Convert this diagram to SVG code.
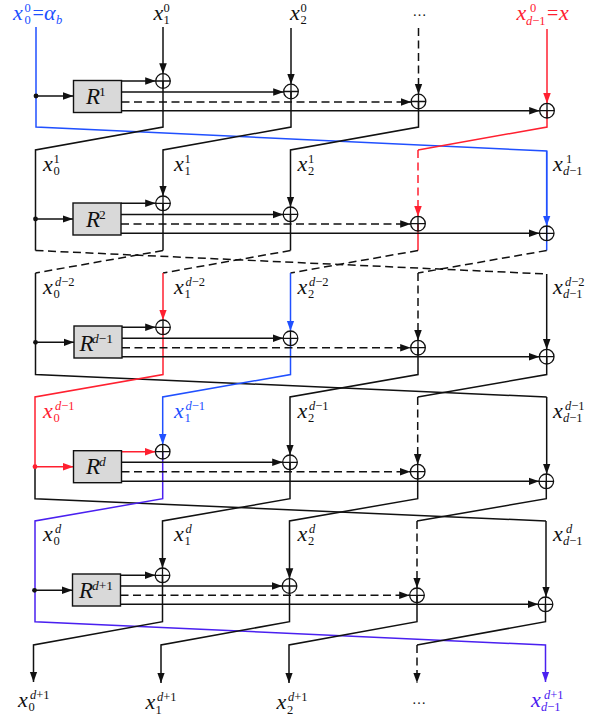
<svg xmlns="http://www.w3.org/2000/svg" width="594" height="716" viewBox="0 0 594 716">
<style>
text{font-family:"Liberation Serif","Times New Roman",serif;fill:#111}
.b{font-size:22px;font-style:italic}
.e{font-size:20px}
.s{font-size:12.5px}
.s tspan,.i{font-style:italic}
.r{font-size:23px;font-style:italic}
.u{font-size:13.5px}
.blue text{fill:#2050ff}.red text{fill:#ff2030}.pur text{fill:#4a20f0}
path{fill:none;stroke:#111;stroke-width:1.5}
.c{fill:none;stroke:#111;stroke-width:1.3}
.box{fill:#d9d9d9;stroke:#111;stroke-width:1.4}
.d{stroke-dasharray:8 4.5}
.A{marker-end:url(#ak)}
.kr{stroke:#ff2030}.kb{stroke:#2050ff}.kp{stroke:#4a20f0}
.Ar{marker-end:url(#ar)}.Ab{marker-end:url(#ab)}.Ap{marker-end:url(#ap)}
</style>
<defs>
<marker id="ak" markerUnits="userSpaceOnUse" markerWidth="11" markerHeight="9" refX="10.5" refY="4.5" orient="auto"><path d="M0 .7L10.5 4.500L0 8.300z" style="fill:#111;stroke:none"/></marker>
<marker id="ar" markerUnits="userSpaceOnUse" markerWidth="11" markerHeight="9" refX="10.5" refY="4.5" orient="auto"><path d="M0 .7L10.5 4.500L0 8.300z" style="fill:#ff2030;stroke:none"/></marker>
<marker id="ab" markerUnits="userSpaceOnUse" markerWidth="11" markerHeight="9" refX="10.5" refY="4.5" orient="auto"><path d="M0 .7L10.5 4.500L0 8.300z" style="fill:#2050ff;stroke:none"/></marker>
<marker id="ap" markerUnits="userSpaceOnUse" markerWidth="11" markerHeight="9" refX="10.5" refY="4.5" orient="auto"><path d="M0 .7L10.5 4.500L0 8.300z" style="fill:#4a20f0;stroke:none"/></marker>
<g id="xor"><circle class="c" r="7.3"/><path class="c" d="M-7.3 0H7.3M0-7.3V7.3"/></g>
</defs>
<g id="connectors">
<path class="kb" d="M36 27V127L546.7 151V250.5"/>
<path class="kb Ab" d="M546.7 151V226"/>
<path class="A" d="M163 27V73.7"/>
<path class="A" d="M291 28V84.2"/>
<path class="d A" d="M418.5 28V94.2"/>
<path class="kr Ar" d="M547 29V103.4"/>
<path d="M163 81V127L35.5 150V250.5"/>
<path class="A" d="M291 91.5V127L163 150V196"/>
<path class="A" d="M418.5 101.5V127L290.5 150V207"/>
<path class="kr" d="M547 110.7V127L418 150"/>
<path class="kr d Ar" d="M418 150V216.4"/>
<path class="kr" d="M418 223.7V250.5"/>
<path d="M163 203.3V250.5M290.5 214.3V250.5"/>
<path class="d" d="M35.5 250.5L546.7 274"/>
<path class="d" d="M163 250.5L35.5 273"/>
<path class="d" d="M290.5 250.5L163 273"/>
<path class="d" d="M418 250.5L290.5 273"/>
<path class="d" d="M546.7 250.5L418 273"/>
<path d="M35.5 273V374.5L546.7 397"/>
<path class="A" d="M546.7 397V474"/>
<path class="kr Ar" d="M163 273V320"/>
<path class="kb Ab" d="M290.5 273V331"/>
<path class="d A" d="M418 273V340.4"/>
<path class="A" d="M546.7 274V349.4"/>
<path class="kr" d="M163 327.3V374.5L35 397V466.7"/>
<path class="kb Ab" d="M290.5 338.3V374.5L162.7 397V444.4"/>
<path class="A" d="M418 347.7V374.5L290 397V455"/>
<path d="M546.7 356.7V374.5L417.7 397"/>
<path class="d A" d="M417.7 397V464.4"/>
<path d="M35 466.7V498.7L546 521"/>
<path class="A" d="M546 521V597"/>
<path class="kp Ap" d="M162.7 451.7V498.7L35 521V621.7L545.5 645V682"/>
<path class="A" d="M290 462.3V498.7L162.5 521V568"/>
<path class="A" d="M417.7 471.7V498.7L289.5 521V578.7"/>
<path d="M546.3 481.3V498.7L417 521"/>
<path class="d A" d="M417 521V588"/>
<path class="A" d="M162.5 575.3V621.7L33.5 645V682"/>
<path class="A" d="M289.5 586V621.7L161 645V683"/>
<path class="A" d="M417 595.3V621.7L289 645V683"/>
<path d="M545.5 604.3V621.7L417 645"/>
<path class="d A" d="M417 645V683"/>

<path class="A" d="M36 96H73.5"/>
<path class="A" d="M121.5 81H155.7"/>
<path class="A" d="M121.5 92H283.7"/>
<path class="d A" d="M121.5 102H411.2"/>
<path class="A" d="M121.5 110.7H539.7"/>
<path class="A" d="M35.5 219H73"/>
<path class="A" d="M121 203.3H155.7"/>
<path class="A" d="M121 214.5H283.2"/>
<path class="d A" d="M121 224H410.7"/>
<path class="A" d="M121 233.3H539.4"/>
<path class="A" d="M35.5 342.3H74"/>
<path class="A" d="M122 327.3H155.7"/>
<path class="A" d="M122 338.3H283.2"/>
<path class="d A" d="M122 347.7H410.7"/>
<path class="A" d="M122 356.7H539.4"/>
<path class="kr Ar" d="M35 466.7H73.5"/>
<path class="kr Ar" d="M121.5 451.7H155.4"/>
<path class="A" d="M121.5 462.3H282.7"/>
<path class="d A" d="M121.5 471.7H410.4"/>
<path class="A" d="M121.5 481.3H539"/>
<path class="A" d="M34.5 590.3H72.5"/>
<path class="A" d="M120.5 575.3H155.2"/>
<path class="A" d="M120.5 586H282.2"/>
<path class="d A" d="M120.5 595.3H409.7"/>
<path class="A" d="M120.5 604.3H538.2"/>
<circle cx="36" cy="96" r="2.4" fill="#111"/>
<circle cx="35.5" cy="219" r="2.4" fill="#111"/>
<circle cx="35.5" cy="342.3" r="2.4" fill="#111"/>
<circle cx="35" cy="466.7" r="2.4" fill="#ff2030"/>
<circle cx="34.5" cy="590.3" r="2.4" fill="#111"/>
</g>
<g id="xors">
<use href="#xor" x="163" y="81"/><use href="#xor" x="291" y="91.5"/><use href="#xor" x="418.5" y="101.5"/><use href="#xor" x="547" y="110.7"/>
<use href="#xor" x="163" y="203.3"/><use href="#xor" x="290.5" y="214.3"/><use href="#xor" x="418" y="223.7"/><use href="#xor" x="546.7" y="233.3"/>
<use href="#xor" x="163" y="327.3"/><use href="#xor" x="290.5" y="338.3"/><use href="#xor" x="418" y="347.7"/><use href="#xor" x="546.7" y="356.7"/>
<use href="#xor" x="162.7" y="451.7"/><use href="#xor" x="290" y="462.3"/><use href="#xor" x="417.7" y="471.7"/><use href="#xor" x="546.3" y="481.3"/>
<use href="#xor" x="162.5" y="575.3"/><use href="#xor" x="289.5" y="586"/><use href="#xor" x="417" y="595.3"/><use href="#xor" x="545.5" y="604.3"/>
</g>
<g id="R1"><rect class="box" x="73.5" y="80.5" width="48" height="32"/><text class="r" x="86" y="103.5">R</text><text class="u" x="99" y="96">1</text></g>
<g id="R2"><rect class="box" x="73" y="203" width="48" height="32"/><text class="r" x="86" y="226.5">R</text><text class="u" x="99" y="219">2</text></g>
<g id="R3"><rect class="box" x="74" y="326" width="48" height="32"/><text class="r" x="79.5" y="350.5">R</text><text class="u" x="92" y="343"><tspan class="i">d</tspan>−1</text></g>
<g id="R4"><rect class="box" x="73.5" y="450.7" width="48" height="32"/><text class="r" x="86" y="474">R</text><text class="u i" x="99" y="466">d</text></g>
<g id="R5"><rect class="box" x="72.5" y="574" width="48" height="32"/><text class="r" x="79" y="597.5">R</text><text class="u" x="92" y="590"><tspan class="i">d</tspan>+1</text></g>
<g id="labels">
<g class="blue"><text class="b" x="13" y="20">x</text><text class="s" x="24.5" y="12">0</text><text class="s" x="24.5" y="24">0</text><text class="e" x="32.5" y="20">=</text><text class="b" x="44" y="20">α</text><text class="s" x="56" y="24"><tspan>b</tspan></text></g>
<g><text class="b" x="153.5" y="20">x</text><text class="s" x="163.5" y="12">0</text><text class="s" x="163.5" y="24">1</text></g>
<g><text class="b" x="290" y="20">x</text><text class="s" x="300.5" y="12">0</text><text class="s" x="300.5" y="24">2</text></g>
<text x="412.5" y="16" font-size="14">…</text>
<g class="red"><text class="b" x="516.5" y="20">x</text><text class="s" x="530" y="12">0</text><text class="s" x="526" y="25"><tspan>d</tspan>−1</text><text class="e" x="547" y="20">=</text><text class="b" x="559" y="20">x</text></g>

<g><text class="b" x="43" y="171">x</text><text class="s" x="53.5" y="163">1</text><text class="s" x="53.5" y="175">0</text></g>
<g><text class="b" x="174" y="171">x</text><text class="s" x="184.5" y="163">1</text><text class="s" x="184.5" y="175">1</text></g>
<g><text class="b" x="297.5" y="171">x</text><text class="s" x="308" y="163">1</text><text class="s" x="308" y="175">2</text></g>
<g><text class="b" x="553" y="171">x</text><text class="s" x="566" y="163">1</text><text class="s" x="563" y="175"><tspan>d</tspan>−1</text></g>

<g><text class="b" x="43" y="294">x</text><text class="s" x="55" y="286"><tspan>d</tspan>−2</text><text class="s" x="53.5" y="298">0</text></g>
<g><text class="b" x="174" y="294">x</text><text class="s" x="185.5" y="286"><tspan>d</tspan>−2</text><text class="s" x="184.5" y="298">1</text></g>
<g><text class="b" x="297.5" y="294">x</text><text class="s" x="309" y="286"><tspan>d</tspan>−2</text><text class="s" x="308" y="298">2</text></g>
<g><text class="b" x="553" y="294">x</text><text class="s" x="565" y="286"><tspan>d</tspan>−2</text><text class="s" x="563" y="298"><tspan>d</tspan>−1</text></g>

<g class="red"><text class="b" x="43" y="418">x</text><text class="s" x="55" y="410"><tspan>d</tspan>−1</text><text class="s" x="53.5" y="422">0</text></g>
<g class="blue"><text class="b" x="174" y="418">x</text><text class="s" x="185.5" y="410"><tspan>d</tspan>−1</text><text class="s" x="184.5" y="422">1</text></g>
<g><text class="b" x="297.5" y="418">x</text><text class="s" x="309" y="410"><tspan>d</tspan>−1</text><text class="s" x="308" y="422">2</text></g>
<g><text class="b" x="553" y="418">x</text><text class="s" x="565" y="410"><tspan>d</tspan>−1</text><text class="s" x="563" y="422"><tspan>d</tspan>−1</text></g>

<g><text class="b" x="43" y="541">x</text><text class="s" x="55" y="533"><tspan>d</tspan></text><text class="s" x="53.5" y="545">0</text></g>
<g><text class="b" x="174" y="541">x</text><text class="s" x="185.5" y="533"><tspan>d</tspan></text><text class="s" x="184.5" y="545">1</text></g>
<g><text class="b" x="297.5" y="541">x</text><text class="s" x="309" y="533"><tspan>d</tspan></text><text class="s" x="308" y="545">2</text></g>
<g><text class="b" x="553" y="541">x</text><text class="s" x="566" y="533"><tspan>d</tspan></text><text class="s" x="563" y="545"><tspan>d</tspan>−1</text></g>

<g><text class="b" x="18" y="707">x</text><text class="s" x="30" y="699"><tspan>d</tspan>+1</text><text class="s" x="28.5" y="711">0</text></g>
<g><text class="b" x="145.5" y="709">x</text><text class="s" x="157" y="701"><tspan>d</tspan>+1</text><text class="s" x="155.5" y="714">1</text></g>
<g><text class="b" x="276.5" y="709">x</text><text class="s" x="288" y="701"><tspan>d</tspan>+1</text><text class="s" x="287" y="714">2</text></g>
<text x="412" y="704" font-size="14">…</text>
<g class="pur"><text class="b" x="531" y="707">x</text><text class="s" x="544" y="699"><tspan>d</tspan>+1</text><text class="s" x="541" y="711"><tspan>d</tspan>−1</text></g>
</g>
</svg>
